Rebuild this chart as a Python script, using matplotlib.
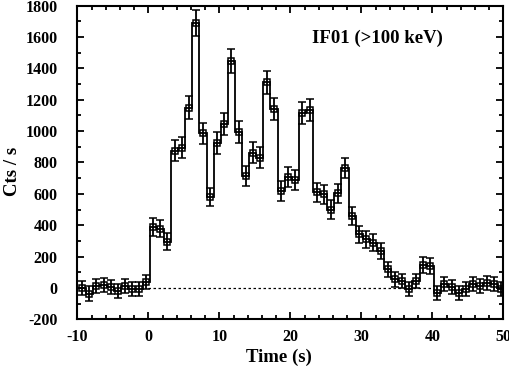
import matplotlib
matplotlib.use("Agg")
import matplotlib.pyplot as plt
from matplotlib.ticker import MultipleLocator

plt.rcParams.update({
    "font.family": "serif",
    "font.serif": ["Liberation Serif", "DejaVu Serif"],
    "font.weight": "bold",
    "axes.labelweight": "bold",
    "axes.unicode_minus": False,
    "axes.linewidth": 1.5,
})

# bin centres (s), 1 s bins
time_s = [-9.3, -8.3, -7.3, -6.3, -5.3, -4.3, -3.3, -2.3, -1.3, -0.3,
          0.7, 1.7, 2.7, 3.7, 4.7, 5.7, 6.7, 7.7, 8.7, 9.7,
          10.7, 11.7, 12.7, 13.7, 14.7, 15.7, 16.7, 17.7, 18.7, 19.7,
          20.7, 21.7, 22.7, 23.7, 24.7, 25.7, 26.7, 27.7, 28.7, 29.7,
          30.7, 31.7, 32.7, 33.7, 34.7, 35.7, 36.7, 37.7, 38.7, 39.7,
          40.7, 41.7, 42.7, 43.7, 44.7, 45.7, 46.7, 47.7, 48.7, 49.7]

rate = [-2, -35, 15, 22, 8, -20, 12, -5, -8, 40,
        390, 378, 295, 875, 895, 1150, 1690, 985, 580, 925,
        1045, 1445, 995, 712, 862, 830, 1310, 1140, 618, 708,
        688, 1115, 1135, 610, 598, 500, 605, 762, 458, 342,
        310, 290, 235, 119, 55, 45, -8, 45, 148, 142,
        -30, 24, 9, -34, -8, 24, 13, 34, 24, -8]

rate_err = [45, 45, 45, 45, 45, 45, 45, 45, 45, 46,
            56, 56, 53, 67, 67, 72, 82, 69, 60, 68,
            70, 78, 69, 63, 66, 66, 75, 72, 61, 63,
            63, 72, 72, 61, 61, 59, 61, 64, 58, 55,
            54, 54, 52, 49, 47, 46, 45, 46, 50, 50,
            45, 45, 45, 45, 45, 45, 45, 45, 45, 45]

BIN = 1.0
edges = [t - BIN / 2 for t in time_s] + [time_s[-1] + BIN / 2]

fig = plt.figure(figsize=(5.10, 3.68), dpi=100)
ax = fig.add_axes([0.1516, 0.132, 0.987 - 0.1516, 0.985 - 0.132])

ax.hlines(0, 0, 40, colors="black", lw=0.9, linestyles=(0, (2, 2)), zorder=1)
ax.stairs(rate, edges, baseline=None, color="black", lw=1.3, zorder=2)
ax.errorbar(time_s, rate, yerr=rate_err, fmt="s", ms=5, mfc="none",
            mec="black", mew=1.1, ecolor="black", elinewidth=1.3,
            capsize=3, capthick=1.3, zorder=3)

ax.set_xlim(-10, 50)
ax.set_ylim(-200, 1800)
ax.xaxis.set_major_locator(MultipleLocator(10))
ax.xaxis.set_minor_locator(MultipleLocator(2))
ax.yaxis.set_major_locator(MultipleLocator(200))
ax.yaxis.set_minor_locator(MultipleLocator(100))
ax.tick_params(which="both", direction="in", top=True, right=True,
               width=1.3, labelsize=11.5)
ax.tick_params(which="major", length=5)
ax.tick_params(which="minor", length=3)
ax.tick_params(axis="y", pad=14)
ax.tick_params(axis="x", pad=7)

# axis titles placed in figure coords to match the original layout
fig.text(0.547, 0.03, "Time (s)", fontsize=13.5, fontweight="bold",
         ha="center", va="center")
fig.text(0.024, 0.535, "Cts / s", fontsize=13.5, fontweight="bold",
         rotation=90, ha="center", va="center")

ax.text(32.3, 1590, "IF01 (>100 keV)", fontsize=13.5, fontweight="bold",
        ha="center", va="center")

fig.savefig("out.png", dpi=100)
